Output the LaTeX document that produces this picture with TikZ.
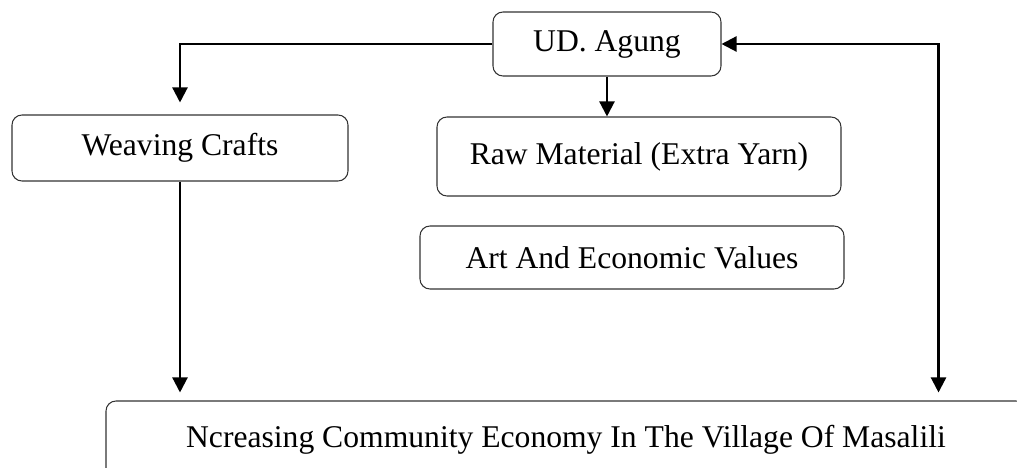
\documentclass[tikz,border=0pt]{standalone}
\usepackage{fontspec}
\setmainfont{Liberation Serif}
\usetikzlibrary{arrows.meta}
\tikzstyle{box} = [
    rectangle, 
    rounded corners=0.2cm, 
    minimum height=1.3cm,
    text centered, 
    draw=black!80,
    line width=0.6pt,
    font=\fontsize{18}{22}\selectfont
]
\tikzstyle{arrow} = [
    line width=1.3pt, 
    -{Triangle[length=0.3cm, width=0.3cm]}
]

\begin{document}
\begin{tikzpicture}[node distance=2cm]
        \useasboundingbox (-12.14,0.88) rectangle (8.20,-8.48);
        \node (agung) [box, minimum width=4.56cm, minimum height=1.28cm] {UD. Agung};
        \node (weaving) [box, below of=agung, xshift=-8.54cm, yshift=-0.08cm, minimum width=6.72cm, minimum height=1.32cm] {Weaving Crafts};
        \node (raw) [box, below of=agung, xshift=0.64cm, yshift=-0.25cm, minimum width=8.08cm, minimum height=1.58cm] {Raw Material (Extra Yarn)};
        \node (art) [box, below of=raw, xshift=-0.14cm, yshift=-0.02cm, minimum width=8.48cm, minimum height=1.26cm] {Art And Economic Values};
        \node (village) [box, below of=art, xshift=-1.32cm, yshift=-1.65cm, minimum width=18.4cm, minimum height=1.56cm] {Ncreasing Community Economy In The Village Of Masalili};
        \coordinate (corner) at ([xshift=4.34cm]agung.east);

        \draw[arrow, shorten >=0.24cm] (agung.west) -| (weaving.north);
        \draw[arrow] (agung.south) -- (agung.south |- raw.north);
        \draw[arrow, shorten >=0.16cm] (weaving.south) -- (weaving.south |- village.north);
        \draw[arrow, {Triangle[length=0.3cm, width=0.3cm]}-{Triangle[length=0.3cm, width=0.3cm]}, shorten >=0.16cm] (agung.east) -- (corner) -- (corner |- village.north);
    \end{tikzpicture}
\end{document}
